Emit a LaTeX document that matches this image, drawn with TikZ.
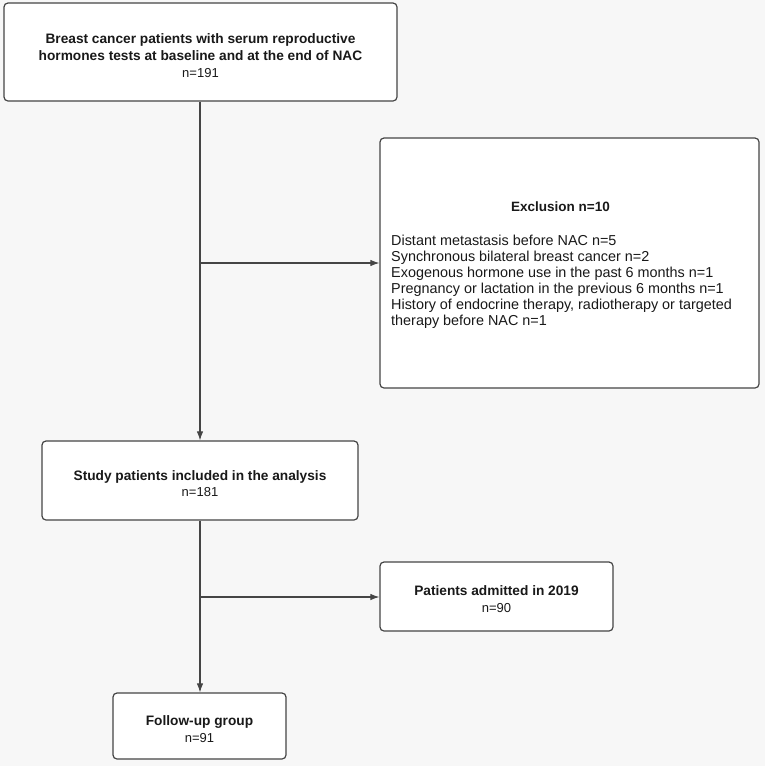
\documentclass[tikz,border=0pt]{standalone}
\usepackage{fontspec}
\setmainfont{Liberation Sans}
\usetikzlibrary{arrows.meta}
\definecolor{bg}{HTML}{F7F7F7}
\definecolor{ln}{HTML}{454545}
\newcommand{\bt}[1]{{\bfseries\fontsize{13.7}{17}\selectfont #1}}
\begin{document}
\begin{tikzpicture}[x=1pt,y=-1pt,
  box/.style={draw=ln, line width=1.2pt, fill=white, rounded corners=4pt, inner sep=0pt},
  txt/.style={font=\fontsize{13}{16.5}\selectfont, align=center, text=black!90},
  conn/.style={draw=ln, line width=1.1pt, -{Latex[length=9pt,width=6.5pt]}}]
\fill[bg] (0,0) rectangle (765,766);
\useasboundingbox (0,0) rectangle (765,766);

\node[box, minimum width=393pt, minimum height=98pt] (top) at (200.5,52) {};
\node[txt, font=\fontsize{13}{17}\selectfont] (toptxt) at (200.5,56)
  {\bt{Breast cancer patients with serum reproductive}\\\bt{hormones tests at baseline and at the end of NAC}\\n=191};

\node[box, minimum width=379pt, minimum height=250pt] (excl) at (569.5,263) {};
\node[txt, font=\bfseries\fontsize{13.5}{16.5}\selectfont] (excltitle) at (560.5,207) {Exclusion n=10};
\node[txt, font=\fontsize{14.4}{16}\selectfont, align=left, anchor=north west, inner sep=0pt] (excllist) at (391,235)
  {Distant metastasis before NAC n=5\\
   Synchronous bilateral breast cancer n=2\\
   Exogenous hormone use in the past 6 months n=1\\
   Pregnancy or lactation in the previous 6 months n=1\\
   History of endocrine therapy, radiotherapy or targeted\\
   therapy before NAC n=1};

\node[box, minimum width=316pt, minimum height=79pt] (study) at (200,480.5) {};
\node[txt] (studytxt) at (200,483.5) {\bt{Study patients included in the analysis}\\n=181};

\node[box, minimum width=233pt, minimum height=69pt] (adm) at (496.5,596.5) {};
\node[txt] (admtxt) at (496.5,599) {\bt{Patients admitted in 2019}\\n=90};

\node[box, minimum width=173pt, minimum height=66pt] (fol) at (199.5,726) {};
\node[txt] (foltxt) at (199.5,729) {\bt{Follow-up group}\\n=91};

\coordinate (b1) at (200,263);
\coordinate (b2) at (200,597);

\draw[conn] (top.south -| b1) -- (study.north -| b1);
\draw[conn] (b1) -- (excl.west |- b1);
\draw[conn] (study.south -| b2) -- (fol.north -| b2);
\draw[conn] (b2) -- (adm.west |- b2);
\end{tikzpicture}
\end{document}
